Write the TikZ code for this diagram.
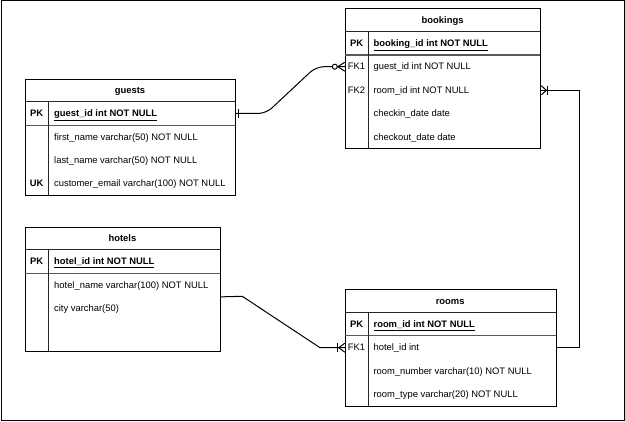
\documentclass[tikz,border=0pt]{standalone}
\usepackage{fontspec}
\setmainfont{Liberation Sans}
\usepackage{tikz}
\usetikzlibrary{calc}

\begin{document}
\begin{tikzpicture}[x=1pt, y=-1pt,
  every node/.style={font=\fontsize{9.4}{11}\selectfont, inner sep=0pt, text height=6.6pt, text depth=0pt},
  tbl/.style={draw, line width=1pt, anchor=north west},
  sep/.style={line width=1pt, black!85},
  pksep/.style={line width=1.5pt, black!65},
  ttl/.style={font=\fontsize{9.4}{11}\selectfont\bfseries},
  keybold/.style={font=\fontsize{9.4}{11}\selectfont\bfseries},
  fld/.style={anchor=west},
  pkfld/.style={anchor=west, font=\fontsize{9.4}{11}\selectfont\bfseries},
  rel/.style={line width=1pt}]

  \useasboundingbox (0,0) rectangle (625,422);
  \draw[line width=1pt] (1,1) rectangle (624,421);

  % guests
  \node[tbl, minimum width=210.4pt, minimum height=116.6pt] (guests) at (24.8,78.7) {};
  \draw[sep] (24.8,101.7) -- (235.2,101.7);
  \draw[pksep] (24.8,125.3) -- (235.2,125.3);
  \draw[sep] (48.4,101.7) -- (48.4,195.3);
  \node[ttl] (gst-title) at (130,90.2) {guests};
  \node[keybold] (gst-pk-key) at (36.6,113.5) {PK};
  \node[pkfld] (gst-pk) at (54,113.5) {\underline{guest\_id int NOT NULL}};
  \node[fld] (gst-first) at (54,137) {first\_name varchar(50) NOT NULL};
  \node[fld] (gst-last) at (54,160.3) {last\_name varchar(50) NOT NULL};
  \node[keybold] (gst-uk-key) at (36.6,183.7) {UK};
  \node[fld] (gst-email) at (54,183.7) {customer\_email varchar(100) NOT NULL};

  % bookings
  \node[tbl, minimum width=195.6pt, minimum height=140pt] (bookings) at (344.8,8.3) {};
  \draw[sep] (344.8,31.7) -- (540.4,31.7);
  \draw[pksep] (344.8,55) -- (540.4,55);
  \draw[sep] (368.4,31.7) -- (368.4,148.3);
  \node[ttl] (bkg-title) at (442.6,20) {bookings};
  \node[keybold] (bkg-pk-key) at (356.6,43.3) {PK};
  \node[pkfld] (bkg-pk) at (373.4,43.3) {\underline{booking\_id int NOT NULL}};
  \node (bkg-fk1-key) at (356.6,66.7) {FK1};
  \node[fld] (bkg-fk1) at (373.4,66.7) {guest\_id int NOT NULL};
  \node (bkg-fk2-key) at (356.6,90.3) {FK2};
  \node[fld] (bkg-fk2) at (373.4,90.3) {room\_id int NOT NULL};
  \node[fld] (bkg-in) at (373.4,113.7) {checkin\_date date};
  \node[fld] (bkg-out) at (373.4,137) {checkout\_date date};

  % hotels
  \node[tbl, minimum width=195.2pt, minimum height=124.3pt] (hotels) at (24.8,226.7) {};
  \draw[sep] (24.8,249.7) -- (220,249.7);
  \draw[pksep] (24.8,273.3) -- (220,273.3);
  \draw[sep] (48.4,249.7) -- (48.4,351);
  \node[ttl] (htl-title) at (122.4,238.3) {hotels};
  \node[keybold] (htl-pk-key) at (36.6,261.7) {PK};
  \node[pkfld] (htl-pk) at (54,261.7) {\underline{hotel\_id int NOT NULL}};
  \node[fld] (htl-name) at (54,285.3) {hotel\_name varchar(100) NOT NULL};
  \node[fld] (htl-city) at (54,308.7) {city varchar(50)};

  % rooms
  \node[tbl, minimum width=210.8pt, minimum height=116.7pt] (rooms) at (344.8,289) {};
  \draw[sep] (344.8,312.3) -- (555.6,312.3);
  \draw[pksep] (344.8,335.7) -- (555.6,335.7);
  \draw[sep] (368.4,312.3) -- (368.4,405.7);
  \node[ttl] (rms-title) at (450.2,301) {rooms};
  \node[keybold] (rms-pk-key) at (356.6,324.3) {PK};
  \node[pkfld] (rms-pk) at (373.4,324.3) {\underline{room\_id int NOT NULL}};
  \node (rms-fk1-key) at (356.6,347.7) {FK1};
  \node[fld] (rms-fk1) at (373.4,347.7) {hotel\_id int};
  \node[fld] (rms-num) at (373.4,371) {room\_number varchar(10) NOT NULL};
  \node[fld] (rms-type) at (373.4,394.3) {room\_type varchar(20) NOT NULL};

  % guests -> bookings
  \draw[rel, rounded corners=8pt] (guests.east |- gst-pk) -- (266,113.5) -- (316,66.7) -- (bookings.west |- bkg-fk1);
  \draw[rel] ($(guests.east |- gst-pk)+(2,-4.5)$) -- ++(0,9);
  \draw[rel] ($(bookings.west |- bkg-fk1)+(0,-4.5)$) -- ++(-7,4.5) -- ++(7,4.5);
  \draw[rel, fill=white] ($(bookings.west |- bkg-fk1)+(-10,0)$) circle (2.5pt);

  % hotels -> rooms
  \coordinate (hout) at ([yshift=-7.5pt]hotels.east);
  \draw[rel] (hout) -- (242.3,296.3) -- (320,347.7) -- (rooms.west |- rms-fk1);
  \draw[rel] ($(rooms.west |- rms-fk1)+(-7,-4.5)$) -- ++(0,9);
  \draw[rel] ($(rooms.west |- rms-fk1)+(0,-4.5)$) -- ++(-6,4.5) -- ++(6,4.5);

  % rooms -> bookings
  \draw[rel] (rooms.east |- rms-fk1) -- ++(23.2,0) |- (bookings.east |- bkg-fk2);
  \draw[rel] ($(bookings.east |- bkg-fk2)+(6,-4.5)$) -- ++(0,9);
  \draw[rel] ($(bookings.east |- bkg-fk2)+(0,-4.5)$) -- ++(5,4.5) -- ++(-5,4.5);
\end{tikzpicture}
\end{document}
